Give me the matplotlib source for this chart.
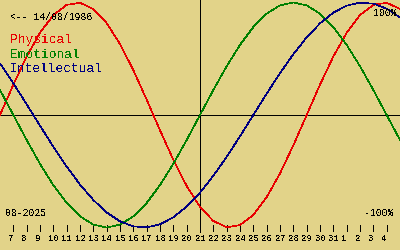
#!/usr/bin/env python3
"""Biorhythm chart, 14/08/1986, window around 21 Aug 2025."""

import matplotlib

matplotlib.use("Agg")

import matplotlib.pyplot as plt

# one value per day, from 6 Aug 2025 to 5 Sep 2025
day_labels = ["6", "7", "8", "9", "10", "11", "12", "13", "14", "15", "16",
              "17", "18", "19", "20", "21", "22", "23", "24", "25", "26",
              "27", "28", "29", "30", "31", "1", "2", "3", "4", "5"]

physical = [0.0, 0.2698, 0.5196, 0.7308, 0.8879, 0.9791, 0.9977, 0.9423,
            0.8170, 0.6310, 0.3984, 0.1362, -0.1362, -0.3984, -0.6310,
            -0.8170, -0.9423, -0.9977, -0.9791, -0.8879, -0.7308, -0.5196,
            -0.2698, 0.0, 0.2698, 0.5196, 0.7308, 0.8879, 0.9791, 0.9977,
            0.9423]

emotional = [0.2225, 0.0, -0.2225, -0.4339, -0.6235, -0.7818, -0.9010,
             -0.9749, -1.0, -0.9749, -0.9010, -0.7818, -0.6235, -0.4339,
             -0.2225, 0.0, 0.2225, 0.4339, 0.6235, 0.7818, 0.9010, 0.9749,
             1.0, 0.9749, 0.9010, 0.7818, 0.6235, 0.4339, 0.2225, 0.0,
             -0.2225]

intellectual = [0.4582, 0.2817, 0.0951, -0.0951, -0.2817, -0.4582, -0.6182,
                -0.7557, -0.8660, -0.9450, -0.9898, -0.9989, -0.9718,
                -0.9096, -0.8146, -0.6901, -0.5406, -0.3717, -0.1893, 0.0,
                0.1893, 0.3717, 0.5406, 0.6901, 0.8146, 0.9096, 0.9718,
                0.9989, 0.9898, 0.9450, 0.8660]

today = 15  # index of 21 Aug
birth_text = "<-- 14/08/1986"
month_text = "08-2025"

BG = "#e2d389"
RED = "#e80000"
GREEN = "#008000"
BLUE = "#000080"
W, H = 400, 250
MID = 115       # pixel row of the zero line
AMP = 112.5     # pixels for 100%
PX = 0.72       # one pixel in points

plt.rcParams["font.family"] = ["Liberation Mono", "DejaVu Sans Mono"]
plt.rcParams["text.antialiased"] = False

fig = plt.figure(figsize=(W / 100, H / 100), dpi=100, facecolor=BG)
ax = fig.add_axes([0, 0, 1, 1])
ax.set_facecolor(BG)
ax.set_xlim(0, len(day_labels) - 1)
ax.set_ylim((MID - H) / AMP, MID / AMP)
ax.axis("off")


def row(px):
    """pixel row from the top -> axes fraction"""
    return 1 - px / H


days = range(len(day_labels))
for series, color in ((physical, RED), (emotional, GREEN), (intellectual, BLUE)):
    ax.plot(days, series, color=color, lw=0.45, antialiased=False, zorder=3)

ax.axhline(0, color="black", lw=PX, antialiased=False, zorder=2)
ax.axvline(today, ymin=row(232), ymax=1, color="black", lw=PX,
           antialiased=False, zorder=2)

for i in days[1:-1]:
    ax.plot([i, i], [row(225), row(231)], color="black", lw=PX,
            antialiased=False, transform=ax.get_xaxis_transform(), zorder=2)
    ax.annotate(day_labels[i], xy=(i, row(241)),
                xycoords=("data", "axes fraction"),
                xytext=(-5, 0), textcoords="offset pixels",
                ha="left", va="baseline", fontsize=6.5, color="black")

small = dict(xycoords="axes fraction", va="baseline", fontsize=7, color="black")
ax.annotate(birth_text, xy=(10 / W, row(20.5)), ha="left", **small)
ax.annotate(month_text, xy=(5 / W, row(216)), ha="left", **small)
ax.annotate("100%", xy=(397 / W, row(16)), ha="right", **small)
ax.annotate("-100%", xy=(394 / W, row(216)), ha="right", **small)

big = dict(xycoords="axes fraction", va="baseline", ha="left", fontsize=9.3)
ax.annotate("Physical", xy=(10 / W, row(43)), color=RED, **big)
ax.annotate("Emotional", xy=(10 / W, row(57.5)), color=GREEN, **big)
ax.annotate("Intellectual", xy=(10 / W, row(72.5)), color=BLUE, **big)

fig.savefig("out.png", dpi=100, facecolor=BG)
